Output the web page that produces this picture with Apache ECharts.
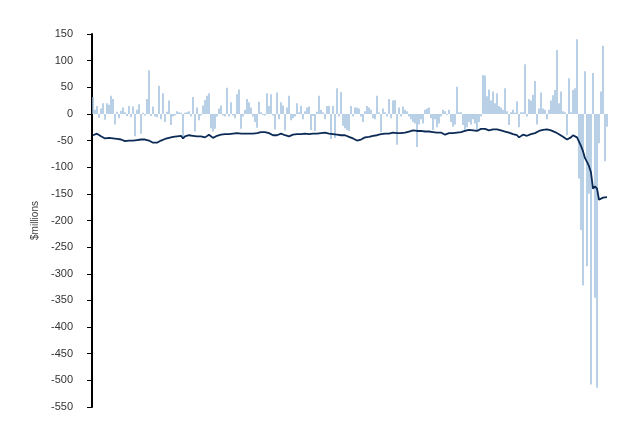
<!DOCTYPE html>
<html>
<head>
<meta charset="utf-8">
<script src="https://cdn.jsdelivr.net/npm/echarts@6/dist/echarts.min.js"></script>
<style>
html,body{margin:0;padding:0;background:#fff;}
#chart{width:642px;height:433px;}
</style>
</head>
<body>
<div id="chart"></div>
<script>
// Monthly values ($millions)
const barValues = [
 32, 8, 15, -7, 10, 20, -11, 20, 17, 34,
 28, -20, 4, -8, 6, 12, 3, -4, 15, -6,
 14, -42, 8, 18, -37, 2, -3, 28, 82, -4,
 14, -5, -6, 53, -10, 39, -15, 4, 25, -21,
 -5, -3, 5, 3, 2, -47, 2, 3, 5, -5,
 32, -33, 12, -12, -3, 16, 26, 34, 39, -27,
 -33, -28, -5, 10, 16, -3, -5, 49, -5, 22,
 -3, -8, 37, 46, -28, -5, 8, 28, 22, 12,
 -5, -15, -26, 23, 3, -2, -3, 39, 15, 37,
 -3, -29, 40, -10, 22, 16, -31, 12, 34, -12,
 -8, -5, 20, 3, 15, -10, 5, 12, 14, -30,
 -4, -32, 4, 34, 8, 3, -10, 15, 15, -47,
 15, -45, 48, -5, 41, -22, -27, -30, -32, 15,
 -5, 12, 12, 10, -5, -15, 5, 15, 12, 8,
 -8, -10, 34, 3, -34, 10, 3, -5, 28, -8,
 25, 26, -58, 12, -5, 14, 8, 5, -5, -10,
 -15, -18, -62, -20, -10, -18, 8, 10, 12, -8,
 -30, -10, -25, -18, -5, 8, 5, -2, 8, -15,
 -24, -20, 51, 3, 3, -21, -30, -25, -15, -20,
 -10, -18, -30, -15, -5, 73, 72, 33, 46, 25,
 42, 20, 39, 15, 12, 8, 48, 5, -21, 3,
 8, 2, 24, -25, 3, 3, 93, -5, 28, 25,
 36, 62, -20, 10, 40, 10, 8, -10, 8, 25,
 35, 45, 120, 20, 42, 5, 3, -40, 67, 3,
 45, 48, 140, -121, -218, -322, 80, -286, -150, -508,
 77, -345, -514, -55, 42, 128, -89, -24
];
const lineValues = [
 -40, -38, -37, -39, -42, -44, -46, -46, -45, -45,
 -46, -46, -47, -47, -48, -50, -51, -50, -50, -50,
 -50, -49, -49, -48, -48, -47, -48, -48, -50, -52,
 -54, -56, -54, -52, -50, -48, -47, -46, -45, -44,
 -43, -42, -42, -41, -41, -46, -42, -39, -40, -40,
 -41, -42, -42, -42, -42, -43, -44, -41, -39, -42,
 -45, -43, -41, -40, -39, -38, -38, -37, -38, -37,
 -37, -37, -36, -37, -37, -38, -37, -37, -37, -36,
 -37, -36, -36, -35, -34, -33, -34, -35, -36, -38,
 -40, -41, -40, -38, -37, -38, -40, -41, -42, -41,
 -39, -38, -38, -37, -38, -38, -37, -38, -38, -38,
 -37, -37, -37, -36, -36, -35, -35, -36, -37, -38,
 -38, -39, -39, -39, -40, -40, -40, -41, -43, -44,
 -46, -48, -50, -50, -48, -46, -44, -44, -43, -42,
 -41, -41, -40, -39, -38, -37, -37, -38, -37, -36,
 -35, -35, -36, -36, -36, -35, -35, -34, -33, -32,
 -31, -31, -32, -32, -32, -32, -33, -33, -33, -34,
 -34, -34, -35, -35, -35, -38, -39, -37, -36, -36,
 -36, -35, -35, -34, -34, -33, -32, -31, -30, -30,
 -31, -32, -32, -30, -28, -27, -28, -30, -31, -30,
 -29, -29, -29, -30, -31, -32, -33, -34, -35, -36,
 -38, -39, -40, -44, -41, -39, -40, -41, -39, -38,
 -37, -36, -34, -32, -31, -30, -29, -29, -30, -31,
 -32, -34, -36, -38, -41, -43, -46, -48, -47, -44,
 -40, -40, -44, -52, -60, -70, -83, -90, -98, -110,
 -140, -136, -140, -161, -160, -157, -159, -156
];
const categories = barValues.map((_, i) => String(i + 1));
const yTicks = { min: -550, max: 150, step: 50 };
const yAxisName = '$millions';

const chart = echarts.init(document.getElementById('chart'), null, { renderer: 'canvas' });
chart.setOption({
  animation: false,
  backgroundColor: '#ffffff',
  grid: { left: 92, right: 34, top: 34, bottom: 26, containLabel: false },
  xAxis: {
    type: 'category',
    data: categories,
    boundaryGap: true,
    axisLine: { show: false },
    axisTick: { show: false },
    axisLabel: { show: false },
    splitLine: { show: false }
  },
  yAxis: {
    type: 'value',
    min: yTicks.min,
    max: yTicks.max,
    interval: yTicks.step,
    name: yAxisName,
    nameLocation: 'middle',
    nameGap: 47,
    nameTextStyle: { fontFamily: 'Liberation Sans', fontSize: 10, color: '#404040' },
    axisLine: { show: true, lineStyle: { color: '#000', width: 2 } },
    axisTick: { show: true, length: 5, lineStyle: { color: '#000', width: 1 } },
    axisLabel: { margin: 19, fontFamily: 'Liberation Sans', fontSize: 11, color: '#333' },
    splitLine: { show: false }
  },
  series: [
    {
      type: 'bar',
      data: barValues,
      barWidth: 1.4,
      itemStyle: { color: '#9bbcdc' },
      z: 2
    },
    {
      type: 'line',
      data: lineValues,
      symbol: 'none',
      lineStyle: { color: '#0b2a55', width: 1.8 },
      z: 3
    }
  ]
});
</script>
</body>
</html>
